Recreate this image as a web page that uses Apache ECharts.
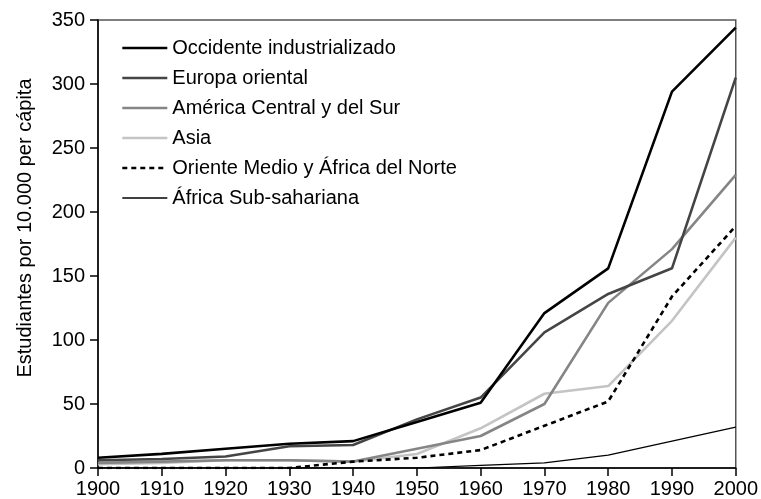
<!DOCTYPE html>
<html>
<head>
<meta charset="utf-8">
<script src="https://cdn.jsdelivr.net/npm/echarts@6/dist/echarts.min.js"></script>
<style>
  html, body { margin: 0; padding: 0; background: #fff; }
  #main { width: 761px; height: 499px; }
</style>
</head>
<body>
<div id="main"></div>
<script>
// años (eje x)
const years = ["1900", "1910", "1920", "1930", "1940", "1950", "1960", "1970", "1980", "1990", "2000"];
const yTicks = [0, 50, 100, 150, 200, 250, 300, 350];

// estudiantes por 10.000
const occidente = [8, 11, 15, 19, 21, 36, 51, 121, 156, 294, 344];
const europaOriental = [6, 7, 9, 17, 18, 38, 55, 106, 136, 156, 305];
const americaCS = [4, 5, 6, 6, 5, 15, 25, 50, 129, 171, 229];
const asia = [3, 4, 6, 6, 5, 11, 31, 58, 64, 115, 180];
const orienteMedio = [0, 0, 0, 0, 5, 8, 14, 33, 52, 134, 189];
const africaSub = [0, 0, 0, 0, 0, 0, 2, 4, 10, 21, 32];

const font = "Liberation Sans, Arial, Helvetica, sans-serif";

function line(name, data, color, width, type) {
  return {
    name: name,
    type: "line",
    data: data,
    symbol: "none",
    silent: true,
    lineStyle: { color: color, width: width, type: type || "solid" },
    itemStyle: { color: color, opacity: 0 },
  };
}

const chart = echarts.init(document.getElementById("main"));
chart.setOption({
  animation: false,
  backgroundColor: "#fff",
  textStyle: { fontFamily: font },
  grid: {
    left: 98,
    right: 23,
    top: 20,
    bottom: 30,
    show: true,
    borderColor: "#555",
    borderWidth: 1.5,
  },
  legend: {
    orient: "vertical",
    left: 116,
    top: 33,
    itemWidth: 45,
    itemHeight: 14,
    itemGap: 10,
    selectedMode: false,
    itemStyle: { opacity: 0 },
    lineStyle: { width: 2.6 },
    textStyle: { fontFamily: font, fontSize: 20, color: "#000" },
    data: [
      "Occidente industrializado",
      "Europa oriental",
      "América Central y del Sur",
      "Asia",
      "Oriente Medio y África del Norte",
      { name: "África Sub-sahariana", lineStyle: { width: 1.6, color: "#000" } },
    ],
  },
  xAxis: {
    type: "category",
    data: years,
    boundaryGap: false,
    axisLine: { lineStyle: { color: "#000", width: 1.5 } },
    axisTick: { length: 8, inside: false, interval: 0, lineStyle: { color: "#000", width: 1.5 } },
    axisLabel: { interval: 0, margin: 11, fontSize: 20, color: "#000", fontFamily: font },
    splitLine: { show: false },
  },
  yAxis: {
    type: "value",
    min: yTicks[0],
    max: yTicks[yTicks.length - 1],
    interval: 50,
    name: "Estudiantes por 10.000 per cápita",
    nameLocation: "middle",
    nameGap: 63,
    nameTextStyle: { fontSize: 20, color: "#000", fontFamily: font, padding: [0, 0, 0, 32] },
    axisLine: { show: true, lineStyle: { color: "#000", width: 1.5 } },
    axisTick: { show: true, length: 8, lineStyle: { color: "#000", width: 1.5 } },
    axisLabel: { margin: 13, fontSize: 20, color: "#000", fontFamily: font },
    splitLine: { show: false },
  },
  series: [
    line("África Sub-sahariana", africaSub, "#000", 1.2),
    line("Asia", asia, "#c4c4c4", 2.6),
    line("América Central y del Sur", americaCS, "#858585", 2.6),
    line("Europa oriental", europaOriental, "#454545", 2.6),
    line("Oriente Medio y África del Norte", orienteMedio, "#000", 2.6, [5, 4]),
    line("Occidente industrializado", occidente, "#000", 2.6),
  ],
});
</script>
</body>
</html>
